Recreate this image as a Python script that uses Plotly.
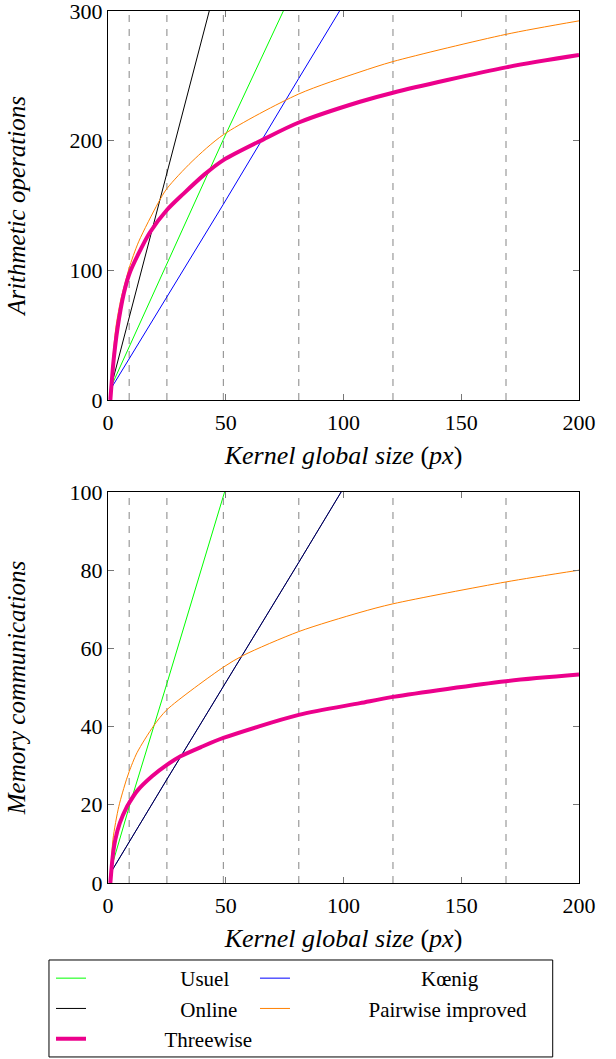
import plotly.graph_objects as go
from plotly.subplots import make_subplots

# Dashed guide lines (kernel global sizes 3x3, 5x5, 7x7, ...)
guide_x = [9, 25, 49, 81, 121, 169]

# ---- Arithmetic operations (top panel) ----
usuel_arith_x = [1, 9, 25, 49, 76]
usuel_arith_y = [9, 41, 104, 201, 306]
koenig_arith_x = [1, 25, 49, 81, 100]
koenig_arith_y = [8, 79, 151, 248, 305]
online_arith_x = [1, 9, 25, 45]
online_arith_y = [8, 64, 176, 314]
pairwise_arith_x = [1, 2.2, 3.5, 5.5, 7.8, 9, 13, 21.3, 25, 35.7, 49, 81, 107, 121, 169, 200]
pairwise_arith_y = [0, 35, 58, 78, 94, 102, 122, 152, 163, 184, 204.6, 236, 253, 261, 282, 292.4]
threewise_arith_x = [1, 2.4, 4.1, 6.7, 9, 13, 17.7, 25, 32, 41, 49, 66, 81, 107, 121, 169, 200]
threewise_arith_y = [0, 31, 56, 82, 97, 113, 129, 146.5, 159, 174, 185, 201, 214, 230, 237, 256.5, 266]

# ---- Memory communications (bottom panel) ----
usuel_mem_x = [1, 9, 25, 51]
usuel_mem_y = [3, 19.5, 51, 103]
koenig_mem_x = [1, 25, 81, 101]
koenig_mem_y = [2.5, 26.5, 82, 102]
online_mem_x = [1, 25, 81, 101]
online_mem_y = [2.5, 26.5, 82, 102]
pairwise_mem_x = [1, 2.1, 4.6, 7.8, 9, 12.3, 19.4, 25, 49, 57.4, 81, 107, 121, 169, 200]
pairwise_mem_y = [0, 11.1, 19.6, 26.4, 28.5, 33.3, 40.2, 44.3, 55.2, 58.2, 64.3, 69.2, 71.4, 77.0, 80.0]
threewise_mem_x = [1, 2, 3.1, 5, 8.1, 9, 12.3, 18.7, 25, 30.8, 40, 49, 81, 107, 121, 169, 200]
threewise_mem_y = [0, 6.8, 11.1, 15.3, 19.6, 20.5, 23.5, 27.3, 30.2, 32.4, 34.9, 37.1, 43.0, 46.0, 47.6, 51.6, 53.3]

x_ticks = [0, 50, 100, 150, 200]
arith_ticks = [0, 100, 200, 300]
mem_ticks = [0, 20, 40, 60, 80, 100]

FONT = "Liberation Serif"
NB = "\u00a0"

series = [
    # name, legend label, legend id, color, width, top data, bottom data, bottom opacity
    ("Usuel", NB * 17 + "Usuel", "legend", "#00ff00", 1,
     (usuel_arith_x, usuel_arith_y), (usuel_mem_x, usuel_mem_y), 1.0),
    ("Kœnig", NB * 24 + "Kœnig", "legend2", "#0000ff", 1,
     (koenig_arith_x, koenig_arith_y), (koenig_mem_x, koenig_mem_y), 1.0),
    ("Online", NB * 17 + "Online", "legend", "#000000", 1,
     (online_arith_x, online_arith_y), (online_mem_x, online_mem_y), 0.8),
    ("Pairwise improved", NB * 14 + "Pairwise improved", "legend2", "#ff8000", 1,
     (pairwise_arith_x, pairwise_arith_y), (pairwise_mem_x, pairwise_mem_y), 1.0),
    ("Threewise", NB * 14 + "Threewise", "legend", "#ec008c", 4,
     (threewise_arith_x, threewise_arith_y), (threewise_mem_x, threewise_mem_y), 1.0),
]

fig = make_subplots(rows=2, cols=1, vertical_spacing=0.1052)

for name, label, leg, color, width, top, bottom, bop in series:
    curved = name in ("Pairwise improved", "Threewise")
    shape = "spline" if curved else "linear"
    fig.add_trace(go.Scatter(x=top[0], y=top[1], mode="lines", name=label,
                             legendgroup=name, legend=leg,
                             line=dict(color=color, width=width, shape=shape, smoothing=0.8)),
                  row=1, col=1)
    fig.add_trace(go.Scatter(x=bottom[0], y=bottom[1], mode="lines", name=label,
                             legendgroup=name, legend=leg, showlegend=False, opacity=bop,
                             line=dict(color=color, width=width, shape=shape, smoothing=0.8)),
                  row=2, col=1)

for r in (1, 2):
    for gx in guide_x:
        fig.add_vline(x=gx, line=dict(color="#9a9a9a", width=1.2, dash="7px,7px"),
                      layer="below", row=r, col=1)

# legend frame
fig.add_shape(type="rect", xref="paper", yref="paper",
              x0=-0.1253, x1=0.9442, y0=-0.1995, y1=-0.0883,
              line=dict(color="black", width=1, dash="solid"),
              fillcolor="rgba(0,0,0,0)")

axis_common = dict(showline=True, linecolor="black", linewidth=1, mirror="ticks",
                   ticks="inside", ticklen=6, tickcolor="#777777", tickwidth=1,
                   showgrid=False, zeroline=False, automargin=False,
                   ticklabeloverflow="allow",
                   tickfont=dict(family=FONT, size=22, color="black"))

fig.update_xaxes(range=[0, 200], tickvals=x_ticks, ticklabelstandoff=3, **axis_common,
                 title=dict(text="<i>Kernel global size</i> (<i>px</i>)",
                            font=dict(family=FONT, size=26, color="black"), standoff=11))
fig.update_yaxes(range=[0, 300], tickvals=arith_ticks, row=1, col=1, **axis_common,
                 title=dict(text="<i>Arithmetic operations</i>",
                            font=dict(family=FONT, size=25, color="black"), standoff=36))
fig.update_yaxes(range=[0, 100], tickvals=mem_ticks, row=2, col=1, **axis_common,
                 title=dict(text="<i>Memory communications</i>",
                            font=dict(family=FONT, size=25, color="black"), standoff=36))

legend_common = dict(orientation="v", xanchor="left", yanchor="top", y=-0.0860,
                     borderwidth=0, bgcolor="rgba(0,0,0,0)", traceorder="normal",
                     font=dict(family=FONT, size=21, color="black"))

fig.update_layout(
    width=616, height=1059,
    margin=dict(l=108, r=37, t=11, b=176, autoexpand=False),
    paper_bgcolor="white", plot_bgcolor="white",
    font=dict(family=FONT, color="black"),
    yaxis=dict(domain=[0.5539, 1.0]),
    yaxis2=dict(domain=[0.0, 0.4484]),
    legend=dict(x=-0.121, **legend_common),
    legend2=dict(x=0.3121, **legend_common),
)

fig.write_html("out.html")
